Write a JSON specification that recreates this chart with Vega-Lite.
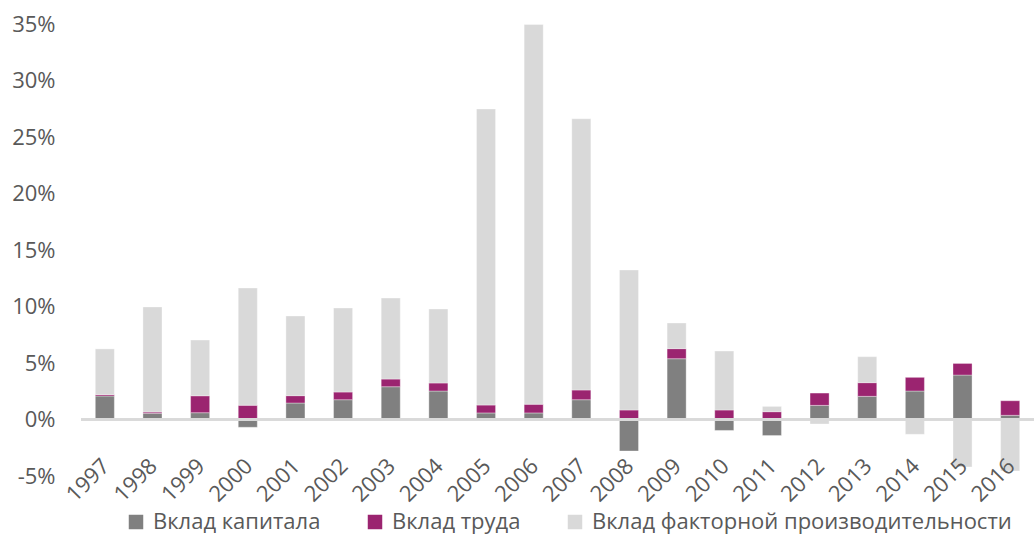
{
  "$schema": "https://vega.github.io/schema/vega-lite/v6.json",
  "width": 953,
  "height": 452,
  "autosize": {"type": "none"},
  "padding": {"left": 81, "top": 24, "right": 0, "bottom": 58},
  "background": "white",
  "config": {
    "view": {"stroke": null},
    "font": "Open Sans",
    "axis": {"labelFont": "Open Sans", "labelColor": "#595959", "labelFontSize": 22},
    "legend": {"labelFont": "Open Sans", "labelColor": "#595959", "labelFontSize": 22}
  },
  "data": {
    "values": [
      {"year": "1997", "component": "Вклад капитала", "ord": 1, "value": 2.08},
      {"year": "1997", "component": "Вклад труда", "ord": 2, "value": 0.12},
      {"year": "1997", "component": "Вклад факторной производительности", "ord": 3, "value": 4.05},
      {"year": "1998", "component": "Вклад капитала", "ord": 1, "value": 0.55},
      {"year": "1998", "component": "Вклад труда", "ord": 2, "value": 0.11},
      {"year": "1998", "component": "Вклад факторной производительности", "ord": 3, "value": 9.3},
      {"year": "1999", "component": "Вклад капитала", "ord": 1, "value": 0.6},
      {"year": "1999", "component": "Вклад труда", "ord": 2, "value": 1.5},
      {"year": "1999", "component": "Вклад факторной производительности", "ord": 3, "value": 4.93},
      {"year": "2000", "component": "Вклад капитала", "ord": 1, "value": -0.69},
      {"year": "2000", "component": "Вклад труда", "ord": 2, "value": 1.26},
      {"year": "2000", "component": "Вклад факторной производительности", "ord": 3, "value": 10.38},
      {"year": "2001", "component": "Вклад капитала", "ord": 1, "value": 1.46},
      {"year": "2001", "component": "Вклад труда", "ord": 2, "value": 0.65},
      {"year": "2001", "component": "Вклад факторной производительности", "ord": 3, "value": 7.05},
      {"year": "2002", "component": "Вклад капитала", "ord": 1, "value": 1.75},
      {"year": "2002", "component": "Вклад труда", "ord": 2, "value": 0.68},
      {"year": "2002", "component": "Вклад факторной производительности", "ord": 3, "value": 7.44},
      {"year": "2003", "component": "Вклад капитала", "ord": 1, "value": 2.9},
      {"year": "2003", "component": "Вклад труда", "ord": 2, "value": 0.68},
      {"year": "2003", "component": "Вклад факторной производительности", "ord": 3, "value": 7.17},
      {"year": "2004", "component": "Вклад капитала", "ord": 1, "value": 2.52},
      {"year": "2004", "component": "Вклад труда", "ord": 2, "value": 0.71},
      {"year": "2004", "component": "Вклад факторной производительности", "ord": 3, "value": 6.55},
      {"year": "2005", "component": "Вклад капитала", "ord": 1, "value": 0.58},
      {"year": "2005", "component": "Вклад труда", "ord": 2, "value": 0.7},
      {"year": "2005", "component": "Вклад факторной производительности", "ord": 3, "value": 26.2},
      {"year": "2006", "component": "Вклад капитала", "ord": 1, "value": 0.58},
      {"year": "2006", "component": "Вклад труда", "ord": 2, "value": 0.77},
      {"year": "2006", "component": "Вклад факторной производительности", "ord": 3, "value": 33.6},
      {"year": "2007", "component": "Вклад капитала", "ord": 1, "value": 1.75},
      {"year": "2007", "component": "Вклад труда", "ord": 2, "value": 0.86},
      {"year": "2007", "component": "Вклад факторной производительности", "ord": 3, "value": 24.0},
      {"year": "2008", "component": "Вклад капитала", "ord": 1, "value": -2.79},
      {"year": "2008", "component": "Вклад труда", "ord": 2, "value": 0.84},
      {"year": "2008", "component": "Вклад факторной производительности", "ord": 3, "value": 12.39},
      {"year": "2009", "component": "Вклад капитала", "ord": 1, "value": 5.38},
      {"year": "2009", "component": "Вклад труда", "ord": 2, "value": 0.89},
      {"year": "2009", "component": "Вклад факторной производительности", "ord": 3, "value": 2.27},
      {"year": "2010", "component": "Вклад капитала", "ord": 1, "value": -0.97},
      {"year": "2010", "component": "Вклад труда", "ord": 2, "value": 0.84},
      {"year": "2010", "component": "Вклад факторной производительности", "ord": 3, "value": 5.22},
      {"year": "2011", "component": "Вклад капитала", "ord": 1, "value": -1.42},
      {"year": "2011", "component": "Вклад труда", "ord": 2, "value": 0.69},
      {"year": "2011", "component": "Вклад факторной производительности", "ord": 3, "value": 0.47},
      {"year": "2012", "component": "Вклад капитала", "ord": 1, "value": 1.25},
      {"year": "2012", "component": "Вклад труда", "ord": 2, "value": 1.09},
      {"year": "2012", "component": "Вклад факторной производительности", "ord": 3, "value": -0.4},
      {"year": "2013", "component": "Вклад капитала", "ord": 1, "value": 2.05},
      {"year": "2013", "component": "Вклад труда", "ord": 2, "value": 1.21},
      {"year": "2013", "component": "Вклад факторной производительности", "ord": 3, "value": 2.3},
      {"year": "2014", "component": "Вклад капитала", "ord": 1, "value": 2.52},
      {"year": "2014", "component": "Вклад труда", "ord": 2, "value": 1.21},
      {"year": "2014", "component": "Вклад факторной производительности", "ord": 3, "value": -1.31},
      {"year": "2015", "component": "Вклад капитала", "ord": 1, "value": 3.93},
      {"year": "2015", "component": "Вклад труда", "ord": 2, "value": 1.03},
      {"year": "2015", "component": "Вклад факторной производительности", "ord": 3, "value": -4.2},
      {"year": "2016", "component": "Вклад капитала", "ord": 1, "value": 0.37},
      {"year": "2016", "component": "Вклад труда", "ord": 2, "value": 1.29},
      {"year": "2016", "component": "Вклад факторной производительности", "ord": 3, "value": -4.55}
    ]
  },
  "layer": [
    {
      "mark": {"type": "bar", "stroke": "white", "strokeOpacity": 0.35, "strokeWidth": 1},
      "encoding": {
        "x": {
          "field": "year",
          "type": "ordinal",
          "scale": {"paddingInner": 0.6, "paddingOuter": 0.3},
          "axis": {
            "title": null,
            "orient": "bottom",
            "offset": -57,
            "zindex": 1,
            "domain": false,
            "ticks": false,
            "labelAngle": -45,
            "labelAlign": "right",
            "labelBaseline": "top",
            "labelPadding": 36,
            "labelOffset": -6,
            "labelOverlap": false
          }
        },
        "y": {
          "field": "value",
          "type": "quantitative",
          "stack": "zero",
          "scale": {"domain": [-5, 35], "nice": false},
          "axis": {
            "title": null,
            "values": [-5, 0, 5, 10, 15, 20, 25, 30, 35],
            "labelExpr": "datum.value + '%'",
            "domain": false,
            "ticks": false,
            "grid": false,
            "labelPadding": 26
          }
        },
        "color": {
          "field": "component",
          "type": "nominal",
          "scale": {
            "domain": ["Вклад капитала", "Вклад труда", "Вклад факторной производительности"],
            "range": ["#808080", "#9B2470", "#D9D9D9"]
          },
          "legend": {
            "title": null,
            "orient": "none",
            "direction": "horizontal",
            "legendX": 44,
            "legendY": 487,
            "symbolType": "square",
            "symbolSize": 210,
            "symbolStrokeWidth": 0,
            "labelOffset": 6,
            "labelLimit": 600,
            "columnPadding": 43
          }
        },
        "order": {"field": "ord", "type": "quantitative"}
      }
    },
    {
      "mark": {"type": "rule", "color": "#D9D9D9", "strokeWidth": 2},
      "encoding": {"y": {"datum": 0, "type": "quantitative"}}
    }
  ]
}
